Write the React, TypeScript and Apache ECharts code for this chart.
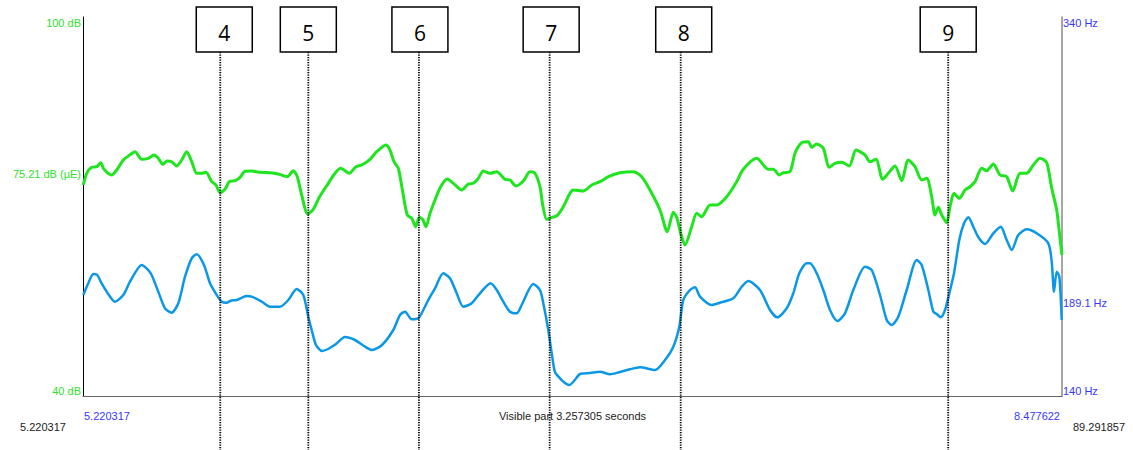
import React, { useEffect, useRef } from "react";
import * as echarts from "echarts";

const T_START = 5.220317;
const T_END = 8.477622;
const TOTAL_END = "89.291857";
const DB_MIN = 40;
const DB_MAX = 100;
const DB_MARK = 75.21;
const HZ_MIN = 140;
const HZ_MAX = 340;
const HZ_MARK = 189.1;

const markerTimes = [5.677, 5.970, 6.338, 6.773, 7.209, 8.099];
const markerLabels = ["4", "5", "6", "7", "8", "9"];

// intensity contour [time s, dB]
const intensity: [number, number][] = [
  [5.2213, 73.4], [5.2326, 75.26], [5.2493, 76.21], [5.2659, 76.3], [5.2792, 76.93], [5.2902, 75.89],
  [5.3158, 74.99], [5.3324, 75.78], [5.3544, 77.36], [5.371, 77.99], [5.3933, 78.68], [5.4156, 77.47],
  [5.4376, 77.63], [5.4565, 78.15], [5.4708, 77.63], [5.4855, 76.68], [5.5008, 77.2], [5.5154, 77.09],
  [5.5321, 76.41], [5.5487, 77.36], [5.5653, 78.68], [5.582, 77.09], [5.5986, 75.26], [5.6152, 75.26],
  [5.6296, 75.41], [5.6485, 73.93], [5.6628, 73.4], [5.6761, 72.18], [5.6928, 72.72], [5.7071, 73.93],
  [5.726, 74.08], [5.7427, 74.62], [5.7593, 75.57], [5.7816, 75.62], [5.8092, 75.41], [5.8425, 75.35],
  [5.8701, 75.14], [5.9001, 74.72], [5.92, 75.67], [5.9333, 74.72], [5.948, 71.82], [5.9679, 68.81],
  [5.9866, 69.56], [6.0065, 71.46], [6.0365, 73.67], [6.0588, 75.26], [6.0777, 76.05], [6.0887, 75.78],
  [6.1063, 75.26], [6.1286, 76.3], [6.1476, 76.57], [6.1752, 77.47], [6.1975, 78.68], [6.2284, 79.74],
  [6.2417, 78.94], [6.2551, 77.09], [6.2694, 76.05], [6.284, 72.34], [6.2993, 68.65], [6.314, 68.13],
  [6.3273, 66.8], [6.3392, 68.29], [6.3506, 67.97], [6.3615, 66.8], [6.3749, 68.92], [6.3915, 71.03],
  [6.4104, 73.13], [6.4324, 74.35], [6.4524, 73.67], [6.4803, 72.61], [6.5023, 73.56], [6.5189, 73.67],
  [6.5355, 74.46], [6.5522, 75.62], [6.5745, 75.26], [6.5968, 75.51], [6.6244, 74.31], [6.641, 74.2],
  [6.661, 73.25], [6.6853, 74.04], [6.7076, 75.51], [6.7242, 75.26], [6.7408, 73.13], [6.7498, 70.24],
  [6.7631, 67.97], [6.7798, 68.29], [6.7964, 68.5], [6.8184, 69.97], [6.8406, 72.09], [6.8516, 72.61],
  [6.8849, 72.45], [6.9128, 73.4], [6.9405, 73.93], [6.9681, 74.72], [7.007, 75.35], [7.0513, 75.51],
  [7.0792, 74.72], [7.1068, 72.61], [7.1401, 69.45], [7.1644, 66.01], [7.1844, 69.08], [7.1957, 68.29],
  [7.209, 65.76], [7.2233, 63.9], [7.2456, 66.8], [7.2622, 68.92], [7.2788, 68.39], [7.3065, 70.24],
  [7.3288, 70.24], [7.362, 71.55], [7.3953, 73.93], [7.4172, 75.89], [7.4618, 77.63], [7.5004, 75.89],
  [7.5171, 75.89], [7.537, 74.99], [7.5503, 75.35], [7.5726, 75.51], [7.5893, 78.42], [7.6115, 80.1],
  [7.6335, 80.26], [7.6448, 79.37], [7.6615, 79.89], [7.6834, 79.21], [7.7034, 76.21], [7.7224, 76.84],
  [7.7446, 77.0], [7.7699, 76.41], [7.7922, 78.94], [7.8222, 78.15], [7.8388, 77.09], [7.8588, 77.47],
  [7.881, 74.31], [7.8997, 75.26], [7.922, 76.41], [7.9443, 74.08], [7.9662, 77.36], [7.9885, 76.3],
  [8.0108, 74.2], [8.0275, 74.46], [8.0441, 71.55], [8.0551, 68.65], [8.0661, 69.87], [8.0774, 68.65],
  [8.094, 67.44], [8.105, 69.97], [8.1183, 72.09], [8.1359, 71.3], [8.1549, 72.61], [8.1715, 73.13],
  [8.1882, 73.93], [8.2105, 76.05], [8.2271, 75.67], [8.2491, 76.73], [8.2713, 74.99], [8.2936, 74.72],
  [8.3136, 72.45], [8.3379, 75.26], [8.3602, 75.26], [8.3821, 76.57], [8.4044, 77.63], [8.4267, 76.93],
  [8.4434, 72.88], [8.46, 69.45], [8.471, 64.97], [8.4776, 62.32],
];

// pitch contour [time s, Hz]
const pitch: [number, number][] = [
  [5.2213, 193.3], [5.2379, 199.47], [5.2546, 204.38], [5.2679, 203.85], [5.2792, 200.32], [5.2992, 195.04],
  [5.3268, 189.76], [5.3544, 193.3], [5.3767, 200.32], [5.4156, 209.13], [5.4456, 204.75], [5.4708, 195.04],
  [5.4931, 186.28], [5.5154, 183.96], [5.5374, 188.92], [5.5597, 202.95], [5.582, 212.66], [5.5986, 214.78],
  [5.6229, 209.13], [5.6429, 199.47], [5.6652, 193.3], [5.6818, 189.76], [5.6984, 189.23], [5.7117, 190.29],
  [5.7317, 190.66], [5.765, 192.77], [5.7816, 192.4], [5.8149, 189.76], [5.8425, 187.12], [5.8758, 187.12],
  [5.9034, 190.66], [5.9313, 196.46], [5.9533, 193.3], [5.9699, 181.85], [5.9812, 174.83], [5.9955, 166.91],
  [6.0155, 163.75], [6.0355, 164.8], [6.0621, 167.44], [6.092, 171.13], [6.1253, 169.55], [6.1552, 166.39],
  [6.1819, 164.27], [6.2151, 166.91], [6.2527, 174.83], [6.275, 182.74], [6.2917, 184.49], [6.314, 180.48],
  [6.3359, 181.0], [6.3526, 185.38], [6.3692, 190.66], [6.3915, 196.83], [6.4191, 204.75], [6.4414, 202.11],
  [6.4637, 194.2], [6.4856, 187.12], [6.5136, 188.92], [6.5412, 194.2], [6.5768, 199.47], [6.5968, 195.94],
  [6.6187, 189.76], [6.641, 184.49], [6.6633, 183.64], [6.6799, 188.02], [6.7185, 199.1], [6.7408, 195.94],
  [6.7541, 187.12], [6.7684, 174.83], [6.7807, 161.64], [6.7907, 152.66], [6.8073, 149.34], [6.824, 146.86],
  [6.8383, 145.8], [6.854, 147.92], [6.8739, 151.61], [6.9072, 152.14], [6.9405, 152.82], [6.9737, 151.45],
  [7.007, 152.66], [7.0403, 154.09], [7.0736, 155.15], [7.1235, 153.72], [7.1567, 159.0], [7.1844, 166.02],
  [7.2043, 176.57], [7.2176, 190.66], [7.2399, 195.94], [7.2566, 197.36], [7.2732, 192.4], [7.3121, 188.02],
  [7.3397, 189.23], [7.384, 191.56], [7.4119, 197.68], [7.4339, 200.69], [7.4728, 195.94], [7.5061, 185.38],
  [7.5304, 181.53], [7.5617, 186.28], [7.5836, 194.2], [7.6036, 204.75], [7.6282, 210.03], [7.6392, 210.03],
  [7.6615, 204.75], [7.6834, 195.94], [7.7057, 185.38], [7.73, 179.58], [7.7556, 183.64], [7.7833, 195.94],
  [7.8222, 208.23], [7.8445, 206.49], [7.8721, 193.3], [7.8944, 180.11], [7.911, 177.47], [7.933, 181.85],
  [7.9609, 195.94], [7.9942, 211.77], [8.0108, 209.13], [8.0328, 195.94], [8.0494, 184.49], [8.0607, 183.27],
  [8.0741, 181.53], [8.0884, 185.38], [8.1027, 194.2], [8.1183, 204.75], [8.1359, 222.32], [8.1516, 231.13],
  [8.1659, 234.3], [8.1825, 229.34], [8.1992, 223.75], [8.2214, 220.21], [8.2491, 225.86], [8.2737, 229.34],
  [8.2936, 222.32], [8.3103, 217.04], [8.3322, 224.96], [8.3602, 227.97], [8.3935, 225.86], [8.4321, 220.58],
  [8.4434, 210.87], [8.451, 195.04], [8.46, 205.59], [8.4687, 202.95], [8.4767, 180.11],
];

const GREEN = "#1ee51e";
const GREEN_TEXT = "#2ee02e";
const BLUE_LINE = "#0a98e6";
const BLUE_TEXT = "#3838ff";
const FONT = "'Liberation Sans', Arial, sans-serif";
// label boxes are hand-placed slightly off their lines in the original
const BOX_SHIFT = [4, 0, 1, 1.5, 3, 0];

export default function App() {
  const ref = useRef<HTMLDivElement>(null);

  useEffect(() => {
    document.body.style.margin = "0";
    const chart = echarts.init(ref.current!, undefined, { renderer: "svg" });
    chart.setOption({
      animation: false,
      grid: { left: 83, right: 71, top: 17, bottom: 54, containLabel: false },
      xAxis: {
        type: "value",
        min: T_START,
        max: T_END,
        axisLine: { show: true, onZero: false, lineStyle: { color: "#666", width: 1 } },
        axisTick: { show: false },
        axisLabel: { show: false },
        splitLine: { show: false },
      },
      yAxis: [
        {
          type: "value",
          min: DB_MIN,
          max: DB_MAX,
          position: "left",
          axisLine: { show: true, lineStyle: { color: "#000", width: 1 } },
          axisTick: { show: false },
          splitLine: { show: false },
          axisLabel: {
            customValues: [DB_MIN, DB_MARK, DB_MAX],
            formatter: (v: number) => (v === DB_MARK ? `${v} dB (\u00b5E)` : `${v} dB`),
            color: GREEN_TEXT,
            fontSize: 11,
            fontFamily: FONT,
            margin: 2,
            verticalAlignMinLabel: "bottom",
            verticalAlignMaxLabel: "top",
          },
        },
        {
          type: "value",
          min: HZ_MIN,
          max: HZ_MAX,
          position: "right",
          axisLine: { show: true, lineStyle: { color: "#888", width: 1.5 } },
          axisTick: { show: false },
          splitLine: { show: false },
          axisLabel: {
            customValues: [HZ_MIN, HZ_MARK, HZ_MAX],
            formatter: (v: number) => `${v} Hz`,
            color: BLUE_TEXT,
            fontSize: 11,
            fontFamily: FONT,
            margin: 1,
            verticalAlignMinLabel: "bottom",
            verticalAlignMaxLabel: "top",
          },
        },
      ],
      series: [
        {
          type: "line",
          yAxisIndex: 0,
          data: intensity,
          showSymbol: false,
          smooth: 0.25,
          lineStyle: { color: GREEN, width: 3 },
          z: 3,
        },
        {
          type: "line",
          yAxisIndex: 1,
          data: pitch,
          showSymbol: false,
          smooth: 0.25,
          lineStyle: { color: BLUE_LINE, width: 2.5 },
          z: 3,
        },
      ],
    });

    const xl = chart.convertToPixel({ xAxisIndex: 0 }, T_START) as number;
    const xr = chart.convertToPixel({ xAxisIndex: 0 }, T_END) as number;
    const yb = chart.convertToPixel({ yAxisIndex: 0 }, DB_MIN) as number;

    const graphics: any[] = [];
    markerTimes.forEach((t, i) => {
      const px = chart.convertToPixel({ xAxisIndex: 0 }, t) as number;
      const bx = px + BOX_SHIFT[i];
      graphics.push({
        type: "line",
        z: 10,
        shape: { x1: px, y1: 52, x2: px, y2: 450 },
        style: { stroke: "#000", lineWidth: 1.8, lineDash: [1.2, 1.3] },
      });
      graphics.push({
        type: "rect",
        z: 11,
        shape: { x: bx - 28, y: 7, width: 56, height: 45 },
        style: { fill: "#fff", stroke: "#000", lineWidth: 1.5 },
      });
      graphics.push({
        type: "text",
        z: 12,
        x: bx,
        y: 33,
        style: {
          text: markerLabels[i],
          fill: "#000",
          font: "21px 'Open Sans', 'Liberation Sans', sans-serif",
          textAlign: "center",
          textVerticalAlign: "middle",
        },
      });
    });

    const smallFont = `11px ${FONT}`;
    graphics.push(
      {
        type: "text",
        x: xl + 1,
        y: yb + 20,
        style: { text: T_START.toFixed(6), fill: BLUE_TEXT, font: smallFont, textAlign: "left", textVerticalAlign: "middle" },
      },
      {
        type: "text",
        x: xr - 2,
        y: yb + 20,
        style: { text: T_END.toFixed(6), fill: BLUE_TEXT, font: smallFont, textAlign: "right", textVerticalAlign: "middle" },
      },
      {
        type: "text",
        x: (xl + xr) / 2,
        y: yb + 20,
        style: {
          text: `Visible part ${(T_END - T_START).toFixed(6)} seconds`,
          fill: "#222",
          font: smallFont,
          textAlign: "center",
          textVerticalAlign: "middle",
        },
      },
      {
        type: "text",
        x: 20,
        y: yb + 31,
        style: { text: T_START.toFixed(6), fill: "#222", font: smallFont, textAlign: "left", textVerticalAlign: "middle" },
      },
      {
        type: "text",
        x: 1125,
        y: yb + 31,
        style: { text: TOTAL_END, fill: "#222", font: smallFont, textAlign: "right", textVerticalAlign: "middle" },
      }
    );

    chart.setOption({ graphic: graphics });

    return () => chart.dispose();
  }, []);

  return <div ref={ref} style={{ width: 1133, height: 450 }} />;
}
